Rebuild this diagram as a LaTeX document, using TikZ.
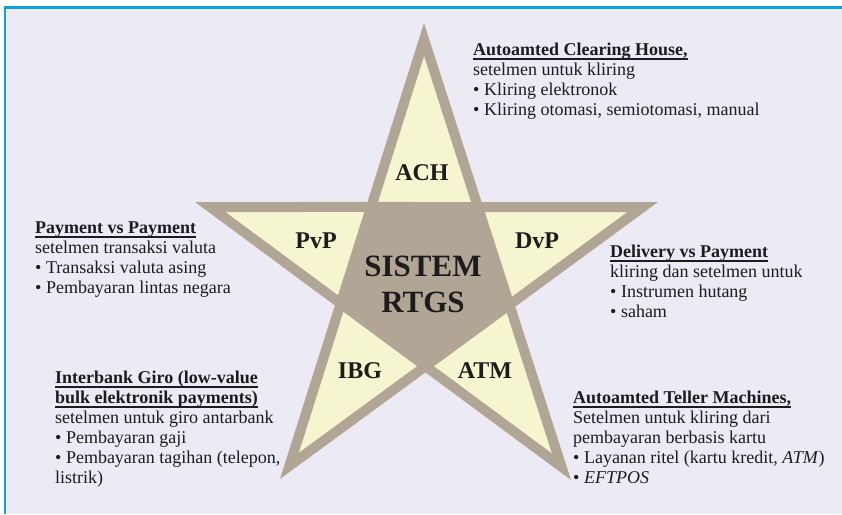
\documentclass[tikz,border=0pt]{standalone}
\usepackage{fontspec}
\setmainfont{Liberation Serif}
\definecolor{pagebg}{HTML}{ECEAF4}
\definecolor{framebl}{HTML}{12A2DA}
\definecolor{taupe}{HTML}{B1A696}
\definecolor{armfill}{HTML}{F5F5CF}
\definecolor{ink}{HTML}{1E1B1C}
% bold heading with a heavy rule just under the baseline
\newcommand\hdline[1]{\setbox0\hbox{\bfseries #1}\rlap{\rule[-5pt]{\wd0}{2.3pt}}\box0}
\begin{document}
\begin{tikzpicture}[x=1pt,y=-1pt,
  infoblock/.style={anchor=base west,inner sep=0pt,text=ink,font=\fontsize{18}{20}\selectfont},
  armlabel/.style={anchor=base,inner sep=0pt,text=ink,font=\fontsize{24}{28}\selectfont\bfseries},
  corelabel/.style={anchor=base,inner sep=0pt,text=ink,font=\fontsize{31}{36}\selectfont\bfseries}]
\useasboundingbox (0,0) rectangle (842,514);
% page and frame
\fill[white] (0,0) rectangle (842,514);
\fill[pagebg] (4,6) rectangle (842,514);
\draw[framebl,line width=3pt] (4,7.5) -- (842,7.5);
\draw[framebl,line width=2.5pt] (5.2,6) -- (5.2,514);
% star tips
\coordinate (T) at (424,23);
\coordinate (L) at (195,202);
\coordinate (R) at (658,202);
\coordinate (BL) at (280,479);
\coordinate (BR) at (571,480);
% inner vertices
\coordinate (iTL) at (intersection of T--BL and L--R);
\coordinate (iTR) at (intersection of T--BR and L--R);
\coordinate (iR) at (intersection of R--BL and T--BR);
\coordinate (iB) at (intersection of L--BR and R--BL);
\coordinate (iL) at (intersection of L--BR and T--BL);
% arms
\fill[armfill] (T) -- (iTR) -- (R) -- (iR) -- (BR) -- (iB) -- (BL) -- (iL) -- (L) -- (iTL) -- cycle;
% inner border of the star
\begin{scope}
  \clip (T) -- (iTR) -- (R) -- (iR) -- (BR) -- (iB) -- (BL) -- (iL) -- (L) -- (iTL) -- cycle;
  \draw[taupe,line width=20pt,miter limit=30] (T) -- (iTR) -- (R) -- (iR) -- (BR) -- (iB) -- (BL) -- (iL) -- (L) -- (iTL) -- cycle;
\end{scope}
% central pentagon
\fill[taupe] (iTL) -- (iTR) -- (iR) -- (iB) -- (iL) -- cycle;
% star labels
\node[armlabel] (ach) at (422,180) {ACH};
\node[armlabel] (pvp) at (316,248) {PvP};
\node[armlabel] (dvp) at (537,248) {DvP};
\node[armlabel] (ibg) at (360,378) {IBG};
\node[armlabel] (atm) at (485,378) {ATM};
\node[corelabel] (rtgs) at (423,276) {\begin{tabular}[t]{@{}c@{}}SISTEM\\RTGS\end{tabular}};
% descriptions
\node[infoblock] (achtxt) at (473,55) {\begin{tabular}[t]{@{}l@{}}
\hdline{Autoamted Clearing House,}\\
setelmen untuk kliring\\
• Kliring elektronok\\
• Kliring otomasi, semiotomasi, manual
\end{tabular}};
\node[infoblock] (pvptxt) at (35,233) {\begin{tabular}[t]{@{}l@{}}
\hdline{Payment vs Payment}\\
setelmen transaksi valuta\\
• Transaksi valuta asing\\
• Pembayaran lintas negara
\end{tabular}};
\node[infoblock] (dvptxt) at (610,257) {\begin{tabular}[t]{@{}l@{}}
\hdline{Delivery vs Payment}\\
kliring dan setelmen untuk\\
• Instrumen hutang\\
• saham
\end{tabular}};
\node[infoblock] (ibgtxt) at (55,383) {\begin{tabular}[t]{@{}l@{}}
\hdline{Interbank Giro (low-value}\\
\hdline{bulk elektronik payments)}\\
setelmen untuk giro antarbank\\
• Pembayaran gaji\\
• Pembayaran tagihan (telepon,\\
listrik)
\end{tabular}};
\node[infoblock] (atmtxt) at (573,403) {\begin{tabular}[t]{@{}l@{}}
\hdline{Autoamted Teller Machines,}\\
Setelmen untuk kliring dari\\
pembayaran berbasis kartu\\
• Layanan ritel (kartu kredit, \textit{ATM})\\
• \textit{EFTPOS}
\end{tabular}};
\end{tikzpicture}
\end{document}
